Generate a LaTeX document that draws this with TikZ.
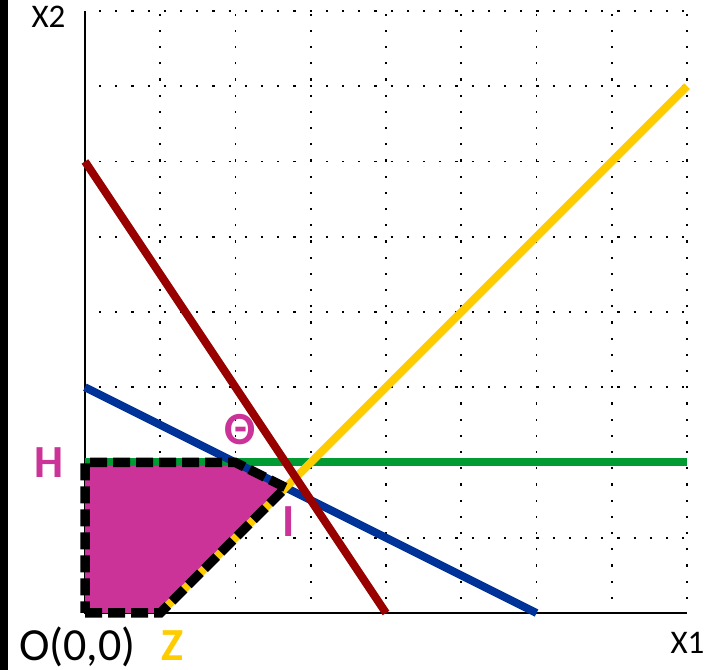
\documentclass[tikz,border=0pt]{standalone}
\usepackage{fontspec}
\setmainfont{Carlito}
\definecolor{mag}{RGB}{204,51,153}
\definecolor{grn}{RGB}{0,155,50}
\definecolor{blu}{RGB}{0,51,153}
\definecolor{drd}{RGB}{153,0,0}
\definecolor{ylw}{RGB}{255,204,0}
\tikzset{
  gridline/.style={line width=1.7bp, dash pattern=on 2.2bp off 14bp, dash phase=-14bp},
  axisline/.style={line width=1.5bp, black},
  conline/.style={line width=8bp},
  boundary/.style={line width=9.5bp, black, dash pattern=on 17bp off 6bp, line join=miter},
  biglbl/.style={font=\fontsize{46bp}{50bp}\selectfont\bfseries, anchor=base, inner sep=0pt},
  axlbl/.style={font=\fontsize{33bp}{36bp}\selectfont, anchor=base, inner sep=0pt}
}
\begin{document}
\begin{tikzpicture}[x=75.25bp, y=75.25bp]
\useasboundingbox (-1.1296,-0.7575) rectangle (8.3322,8.1462);
\fill[white] (-1.1296,-0.7575) rectangle (8.3322,8.1462);
\fill[black] (-1.1296,-0.7575) rectangle (-1.0233,8.1462);
% grid
\foreach \k in {1,...,8} {
  \draw[gridline] (0,\k) -- (8,\k);
  \draw[gridline] (\k,0) -- (\k,8);
}
% axes
\coordinate (orig) at (0,0);
\coordinate (ytop) at (0,8);
\coordinate (xend) at (8,0);
\draw[axisline] (ytop) -- (orig) -- (xend);
% points
\coordinate (O) at (0,0);
\coordinate (Z) at (1,0);
\coordinate (I) at (8/3,5/3);
\coordinate (T) at (2,2);
\coordinate (H) at (0,2);
% feasible region
\fill[mag] (O) -- (Z) -- (I) -- (T) -- (H) -- cycle;
% constraint lines
\coordinate (g1) at (0,2); \coordinate (g2) at (8,2);
\coordinate (b1) at (0,3); \coordinate (b2) at (6,0);
\coordinate (y1) at (1,0); \coordinate (y2) at (8,7);
\coordinate (r1) at (0,6); \coordinate (r2) at (4,0);
\draw[conline, grn] (g1) -- (g2);
\draw[conline, blu] (b1) -- (b2);
\draw[conline, ylw] (y1) -- (y2);
\draw[conline, drd] (r1) -- (r2);
% boundary
\draw[boundary] (O) -- (Z) -- (I) -- (T) -- (H) -- cycle;
% labels
\node[axlbl] (lx2) at (-0.485,7.774) {X2};
\node[axlbl] (lx1) at (8.006,-0.532) {X1};
\node[biglbl, font=\fontsize{46bp}{50bp}\selectfont] (lo) at (-0.10,-0.625) {O(0,0)};
\node[biglbl, text=ylw] (lz) at (1.163,-0.625) {Z};
\node[biglbl, text=mag] (lh) at (-0.472,1.807) {H};
\node[biglbl, text=mag] (lt) at (2.06,2.233) {Θ};
\node[biglbl, text=mag] (li) at (2.704,1.01) {I};
\end{tikzpicture}
\end{document}
